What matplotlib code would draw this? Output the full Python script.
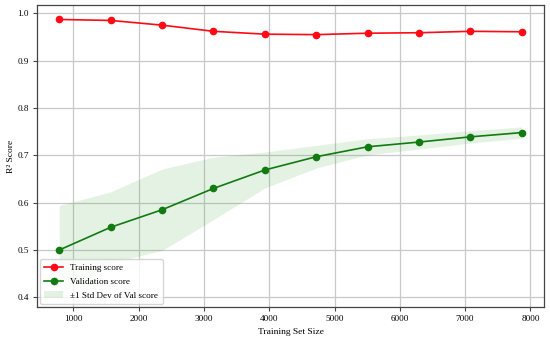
import matplotlib
matplotlib.use("Agg")
import matplotlib.pyplot as plt
import numpy as np

plt.rcParams['font.family'] = ['Liberation Serif', 'DejaVu Serif']

train_sizes = [786, 1573, 2360, 3146, 3933, 4720, 5506, 6293, 7080, 7866]
train_scores = [0.987, 0.985, 0.975, 0.962, 0.956, 0.955, 0.958, 0.959, 0.962, 0.961]
val_scores = [0.500, 0.548, 0.585, 0.630, 0.669, 0.697, 0.718, 0.728, 0.739, 0.748]
val_std = [0.094, 0.075, 0.086, 0.066, 0.038, 0.024, 0.017, 0.015, 0.013, 0.012]

ts = np.array(train_sizes)
vs = np.array(val_scores)
sd = np.array(val_std)

fig = plt.figure(figsize=(5.5, 3.41), dpi=100)
ax = fig.add_axes([37/550, 1 - 307/341, (544-37)/550, (307-5)/341])

ax.plot(ts, train_scores, 'o-', color='#ff0a14', lw=1.2, ms=4.5, label='Training score')
ax.plot(ts, vs, 'o-', color='#117a11', lw=1.2, ms=4.5, label='Validation score')
ax.fill_between(ts, vs - sd, vs + sd, color='#2ca02c', alpha=0.13, lw=0,
                label='±1 Std Dev of Val score')

ax.set_xlim(444, 8208)
ax.set_ylim(0.3795, 1.0176)
ax.set_xticks([1000, 2000, 3000, 4000, 5000, 6000, 7000, 8000])
ax.set_yticks([0.4, 0.5, 0.6, 0.7, 0.8, 0.9, 1.0])
ax.grid(True, color='#c8c8c8', lw=0.9)
ax.set_axisbelow(True)
ax.tick_params(labelsize=6.6, length=3, width=0.8, color='#444444', pad=3)
for s in ax.spines.values():
    s.set_color('#444444')
    s.set_linewidth(0.9)
ax.set_xlabel('Training Set Size', fontsize=6.8, labelpad=3)
ax.set_ylabel('R² Score', fontsize=6.8, labelpad=1.5)
ax.legend(loc='lower left', fontsize=6.6, framealpha=0.8, borderaxespad=0.3,
          handlelength=2.0, labelspacing=0.6, borderpad=0.5)

fig.savefig('out.png', dpi=100)
